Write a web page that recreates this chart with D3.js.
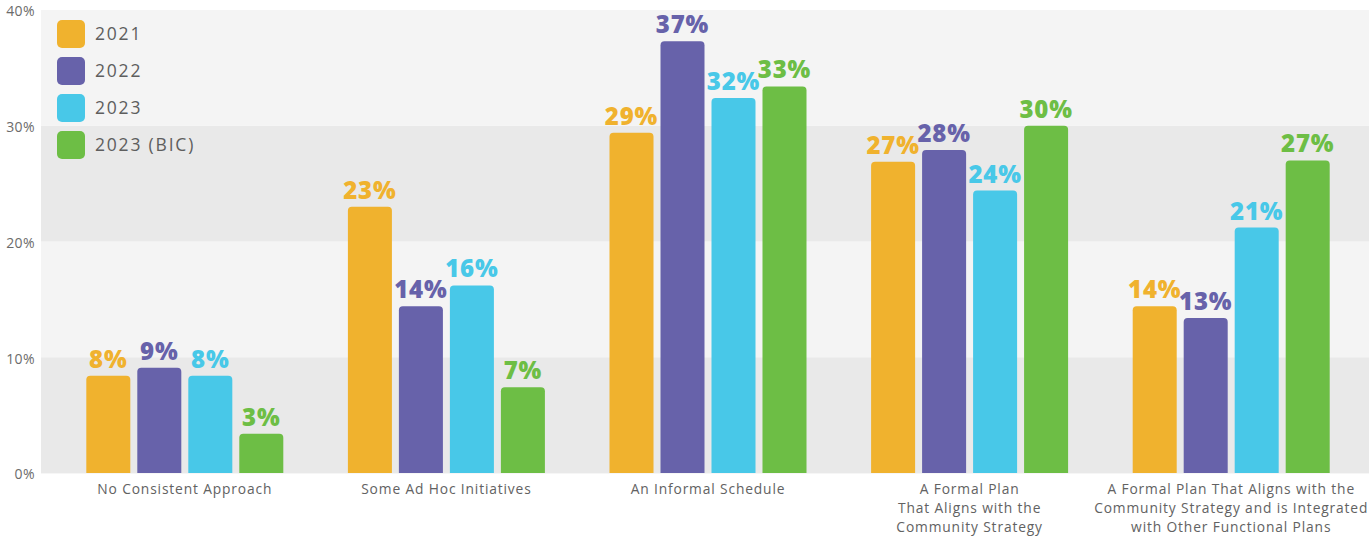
<!DOCTYPE html>
<html>
<head>
<meta charset="utf-8">
<script src="https://cdn.jsdelivr.net/npm/d3@7"></script>
<style>
  html, body { margin: 0; padding: 0; background: #ffffff; }
  svg { display: block; }
</style>
</head>
<body>
<div id="chart"></div>
<script>
// Planning approach responses by survey year
const categories = [
  "No Consistent Approach",
  "Some Ad Hoc Initiatives",
  "An Informal Schedule",
  "A Formal Plan\nThat Aligns with the\nCommunity Strategy",
  "A Formal Plan That Aligns with the\nCommunity Strategy and is Integrated\nwith Other Functional Plans"
];
const seriesNames = ["2021", "2022", "2023", "2023 (BIC)"];
const values2021 = [8.4, 23.0, 29.4, 26.9, 14.4];
const values2022 = [9.1, 14.4, 37.3, 27.9, 13.4];
const values2023 = [8.4, 16.2, 32.4, 24.4, 21.2];
const valuesBIC  = [3.4, 7.4, 33.4, 30.0, 27.0];
const seriesColors = ["#F0B22E", "#6762AA", "#48C8E8", "#6DBE45"];
const yTicks = [0, 10, 20, 30, 40];
const yTickLabels = ["0%", "10%", "20%", "30%", "40%"];

const allValues = [values2021, values2022, values2023, valuesBIC];

const W = 1369, H = 537;
const plotLeft = 41, plotRight = 1369, plotTop = 10, plotBottom = 473;

const svg = d3.select("#chart").append("svg")
  .attr("width", W).attr("height", H);

const y = d3.scaleLinear().domain([0, 40]).range([plotBottom, plotTop]);
const x0 = d3.scaleBand().domain(categories).range([54, 1362]).paddingInner(0).paddingOuter(0);
const groupWidth = 197;
const x1 = d3.scaleBand().domain(seriesNames).range([0, groupWidth]).paddingInner(0.137).paddingOuter(0);

// alternating background bands
const bands = d3.range(yTicks.length - 1).map(i => [yTicks[i], yTicks[i + 1]]);
svg.append("g").selectAll("rect").data(bands).join("rect")
  .attr("x", plotLeft)
  .attr("width", plotRight - plotLeft)
  .attr("y", d => y(d[1]))
  .attr("height", d => y(d[0]) - y(d[1]))
  .attr("fill", (d, i) => i % 2 === 0 ? "#e9e9e9" : "#f4f4f4");

svg.append("line")
  .attr("x1", plotLeft).attr("x2", plotRight)
  .attr("y1", y(0) + 0.5).attr("y2", y(0) + 0.5)
  .attr("stroke", "#f6f6f6").attr("stroke-width", 1);

// y axis labels
const yAxis = d3.axisLeft(y).tickValues(yTicks)
  .tickFormat((d, i) => yTickLabels[i]).tickSize(0).tickPadding(6);
const yg = svg.append("g").attr("transform", `translate(${plotLeft},0)`).call(yAxis);
yg.select(".domain").remove();
yg.selectAll("text")
  .attr("font-family", "'Open Sans', sans-serif")
  .attr("font-size", 14)
  .attr("letter-spacing", 0.4)
  .attr("fill", "#6b6b6b")
  .attr("dy", "0.42em");

// bars with rounded top corners
function barPath(x, yTop, w, yBase, r) {
  const h = yBase - yTop;
  const rr = Math.min(r, h / 2, w / 2);
  return `M${x},${yBase}V${yTop + rr}Q${x},${yTop} ${x + rr},${yTop}H${x + w - rr}Q${x + w},${yTop} ${x + w},${yTop + rr}V${yBase}Z`;
}

const flat = [];
categories.forEach((c, ci) => {
  seriesNames.forEach((s, si) => {
    flat.push({ cat: c, series: s, value: allValues[si][ci], color: seriesColors[si] });
  });
});

const groupOffset = (x0.bandwidth() - groupWidth) / 2;
const bx = d => x0(d.cat) + groupOffset + x1(d.series);

svg.append("g").selectAll("path").data(flat).join("path")
  .attr("d", d => barPath(bx(d), y(d.value), x1.bandwidth(), y(0), 4))
  .attr("fill", d => d.color);

svg.append("g").selectAll("text").data(flat).join("text")
  .attr("x", d => bx(d) + x1.bandwidth() / 2)
  .attr("y", d => y(d.value) - 8)
  .attr("text-anchor", "middle")
  .attr("font-family", "'Open Sans', sans-serif")
  .attr("font-weight", 800)
  .attr("font-size", 24)
  .attr("letter-spacing", 0.8)
  .attr("fill", d => d.color)
  .text(d => Math.round(d.value) + "%");

// category labels
const xAxis = d3.axisBottom(x0).tickSize(0).tickFormat("");
const xg = svg.append("g").attr("transform", `translate(0,${plotBottom})`).call(xAxis);
xg.select(".domain").remove();
xg.selectAll(".tick").each(function (d) {
  const t = d3.select(this).append("text")
    .attr("text-anchor", "middle")
    .attr("font-family", "'Open Sans', sans-serif")
    .attr("font-size", 13.8)
    .attr("letter-spacing", 0.85)
    .attr("fill", "#626262")
    .attr("y", 21);
  d.split("\n").forEach((line, i) => {
    t.append("tspan").attr("x", 0).attr("dy", i === 0 ? 0 : 19).text(line);
  });
});

// legend
const legend = svg.append("g").attr("transform", "translate(57,20)");
const li = legend.selectAll("g").data(seriesNames).join("g")
  .attr("transform", (d, i) => `translate(0,${i * 37})`);
li.append("rect").attr("width", 28).attr("height", 28).attr("rx", 5)
  .attr("fill", (d, i) => seriesColors[i]);
li.append("text").attr("x", 38).attr("y", 14).attr("dy", "0.36em")
  .attr("font-family", "'Open Sans', sans-serif")
  .attr("font-size", 17.5)
  .attr("letter-spacing", 1.8)
  .attr("fill", "#5e5e5e")
  .text(d => d);
</script>
</body>
</html>
